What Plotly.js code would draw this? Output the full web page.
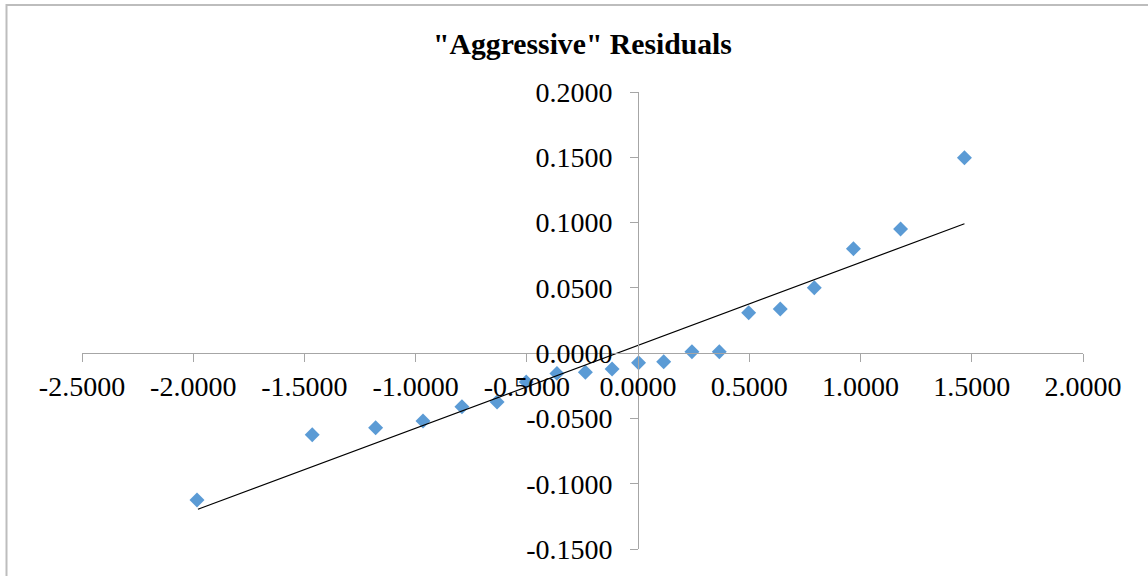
<!DOCTYPE html>
<html>
<head>
<meta charset="utf-8">
<script src="https://cdn.plot.ly/plotly-3.0.1.min.js"></script>
<style>
  html, body { margin: 0; padding: 0; background: #ffffff; }
  #chart { width: 1148px; height: 576px; }
</style>
</head>
<body>
<div id="chart"></div>
<script>
// Residual quantiles (x) and residuals (y)
const pointX = [-1.983, -1.465, -1.180, -0.967, -0.792, -0.634, -0.503, -0.365, -0.237, -0.117,
                 0.002,  0.115,  0.242,  0.365,  0.497,  0.639,  0.792,  0.968,  1.180,  1.467];
const pointY = [-0.1125, -0.0625, -0.0571, -0.0520, -0.0410, -0.0374, -0.0221, -0.0155, -0.0147, -0.0122,
                -0.0074, -0.0066,  0.0011,  0.0011,  0.0309,  0.0338,  0.0501,  0.0800,  0.0950,  0.1496];
// Linear trend line endpoints
const trendX = [-1.979, 1.467];
const trendY = [-0.1196, 0.0991];

const xTickLabels = ["-2.5000", "-2.0000", "-1.5000", "-1.0000", "-0.5000", "0.0000", "0.5000", "1.0000", "1.5000", "2.0000"];
const yTickLabels = ["-0.1500", "-0.1000", "-0.0500", "0.0000", "0.0500", "0.1000", "0.1500", "0.2000"];
const chartTitle = '"Aggressive" Residuals';

const xRange = [-2.5, 2.0];
const yRange = [-0.15, 0.2];

const serif = "'Times New Roman', 'Liberation Serif', serif";
const axisGray = '#a6a6a6';

const traces = [
  {
    x: pointX, y: pointY, type: 'scatter', mode: 'markers',
    marker: { symbol: 'diamond', size: 11.5, color: '#5b9bd5' },
    showlegend: false, hoverinfo: 'x+y'
  },
  {
    x: trendX, y: trendY, type: 'scatter', mode: 'lines',
    line: { color: '#000000', width: 1.2 },
    showlegend: false, hoverinfo: 'skip'
  }
];

const layout = {
  width: 1148, height: 576,
  margin: { l: 82, r: 65, t: 92, b: 27 },
  paper_bgcolor: '#ffffff', plot_bgcolor: 'rgba(0,0,0,0)',
  font: { family: serif, color: '#000000', size: 28 },
  title: {
    text: '<b>' + chartTitle + '</b>',
    font: { family: serif, size: 29.7, color: '#000000' },
    x: 0.5, xref: 'paper', xanchor: 'center',
    y: 1 - 44 / 576, yref: 'container', yanchor: 'middle'
  },
  xaxis: {
    range: xRange, autorange: false,
    tickvals: xTickLabels.map(Number), ticktext: xTickLabels, tickmode: 'array',
    anchor: 'free', position: (0 - yRange[0]) / (yRange[1] - yRange[0]),
    showline: true, linecolor: axisGray, linewidth: 1,
    ticks: 'outside', ticklen: 8, tickcolor: axisGray, tickwidth: 1,
    showgrid: false, zeroline: false,
    tickfont: { family: serif, size: 28, color: '#000000' }
  },
  yaxis: {
    range: yRange, autorange: false,
    tickvals: yTickLabels.map(Number), ticktext: yTickLabels, tickmode: 'array',
    anchor: 'free', position: (0 - xRange[0]) / (xRange[1] - xRange[0]),
    showline: true, linecolor: axisGray, linewidth: 1,
    ticks: 'outside', ticklen: 8, tickcolor: axisGray, tickwidth: 1,
    ticklabelstandoff: 12,
    showgrid: false, zeroline: false,
    tickfont: { family: serif, size: 28, color: '#000000' }
  },
  shapes: [
    {
      type: 'rect', xref: 'paper', yref: 'paper', layer: 'above',
      x0: (6.5 - 82) / 1001, x1: (1170 - 82) / 1001,
      y0: (549 - 600) / 457, y1: (549 - 5) / 457,
      line: { color: '#bdbdbd', width: 2 }, fillcolor: 'rgba(0,0,0,0)'
    }
  ]
};

Plotly.newPlot('chart', traces, layout, { displayModeBar: false, staticPlot: true });
</script>
</body>
</html>
